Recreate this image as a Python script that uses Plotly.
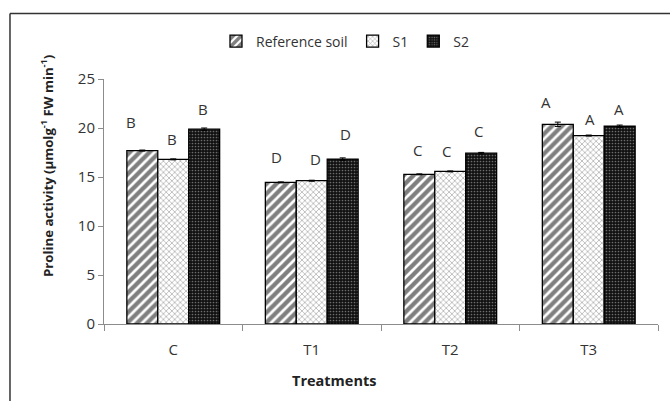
import plotly.graph_objects as go

categories = ["C", "T1", "T2", "T3"]
series_names = ["Reference soil", "S1", "S2"]
ref_soil = [17.7, 14.45, 15.27, 20.38]
s1 = [16.8, 14.62, 15.57, 19.23]
s2 = [19.88, 16.83, 17.43, 20.18]
ref_err = [0.05, 0.05, 0.05, 0.22]
s1_err = [0.05, 0.05, 0.05, 0.05]
s2_err = [0.12, 0.12, 0.08, 0.12]
ref_letters = ["B", "D", "C", "A"]
s1_letters = ["B", "D", "C", "A"]
s2_letters = ["B", "D", "C", "A"]
y_ticks = [0, 5, 10, 15, 20, 25]

FONT = "Open Sans, DejaVu Sans, sans-serif"
TXT = "#333333"
AX = "#8c8c8c"

values = [ref_soil, s1, s2]
errs = [ref_err, s1_err, s2_err]
letters = [ref_letters, s1_letters, s2_letters]

patterns = [
    dict(shape="/", fgcolor="black", bgcolor="white", size=7, solidity=0.62),
    dict(shape="x", fgcolor="#5e5e5e", bgcolor="white", size=4, solidity=0.35),
    dict(shape=".", fgcolor="#c8c8c8", bgcolor="#111111", size=3, solidity=0.25),
]
colors = ["white", "white", "#111111"]

fig = go.Figure()
for name, v, e, pat, col in zip(series_names, values, errs, patterns, colors):
    fig.add_trace(go.Bar(
        name=name, x=categories, y=v,
        error_y=dict(type="data", array=e, visible=True, color="black",
                     thickness=1, width=3),
        marker=dict(color=col, pattern=pat, line=dict(color="black", width=1.3)),
    ))

# letter annotations: per series pixel offset from category centre
bar_px = 31
series_shift = [-bar_px, 0, bar_px]
letter_dx = [[-11, -4, -2, -12], [-1, 4, -4, 1], [-1, 3, -3, -1]]
letter_dy = [[8, 5, 4, 0], [0, 1, 0, -4], [-1, 4, 1, -4]]
annotations = []
for si in range(3):
    for ci, cat in enumerate(categories):
        top = values[si][ci] + errs[si][ci]
        annotations.append(dict(
            x=cat, y=top, xref="x", yref="y", text=letters[si][ci],
            showarrow=False, xshift=series_shift[si] + letter_dx[si][ci],
            yshift=20 + letter_dy[si][ci], yanchor="middle",
            font=dict(family=FONT, size=15, color=TXT)))

annotations.append(dict(
    x=0.415, y=-0.232, xref="paper", yref="paper", text="<b>Treatments</b>",
    showarrow=False, font=dict(family=FONT, size=14.5, color="#222"),
    xanchor="center", yanchor="middle"))
annotations.append(dict(
    x=-0.102, y=0.647, xref="paper", yref="paper",
    text="<b>Proline activity (µmolg<sup>-1</sup> FW min<sup>-1</sup>)</b>",
    showarrow=False, textangle=-90, font=dict(family=FONT, size=13.2, color="#222"),
    xanchor="center", yanchor="middle"))

shapes = [
    dict(type="line", xref="paper", yref="paper", x0=-0.1697, x1=-0.1697,
         y0=-0.5, y1=1.267, line=dict(color="#333", width=1.5)),
    dict(type="line", xref="paper", yref="paper", x0=-0.1697, x1=1.2,
         y0=1.267, y1=1.267, line=dict(color="#333", width=1.5)),
]

fig.update_layout(
    width=670, height=401,
    margin=dict(l=104, r=12, t=79, b=77),
    paper_bgcolor="white", plot_bgcolor="white",
    barmode="group", bargap=0.33, bargroupgap=0,
    font=dict(family=FONT, size=15, color=TXT),
    showlegend=True,
    legend=dict(orientation="h", x=0.435, y=1.153, xanchor="center", yanchor="middle",
                font=dict(family=FONT, size=14, color=TXT), itemwidth=30,
                bgcolor="rgba(0,0,0,0)", traceorder="normal"),
    annotations=annotations, shapes=shapes,
)
fig.update_xaxes(showline=True, linecolor=AX, linewidth=1, ticks="outside",
                 tickson="boundaries", ticklen=6, tickcolor=AX, showgrid=False,
                 ticklabelstandoff=12,
                 tickfont=dict(family=FONT, size=15, color=TXT))
fig.update_yaxes(range=[0, 25], tickvals=y_ticks, showline=True, linecolor=AX,
                 linewidth=1, ticks="outside", ticklen=5, tickcolor=AX,
                 showgrid=False, zeroline=False,
                 tickfont=dict(family=FONT, size=15, color=TXT))

fig.write_html("out.html", config={"displayModeBar": False})
with open("out.html", "r", encoding="utf-8") as f:
    html = f.read()
html = html.replace("<body>", '<body style="margin:0">', 1)
with open("out.html", "w", encoding="utf-8") as f:
    f.write(html)
